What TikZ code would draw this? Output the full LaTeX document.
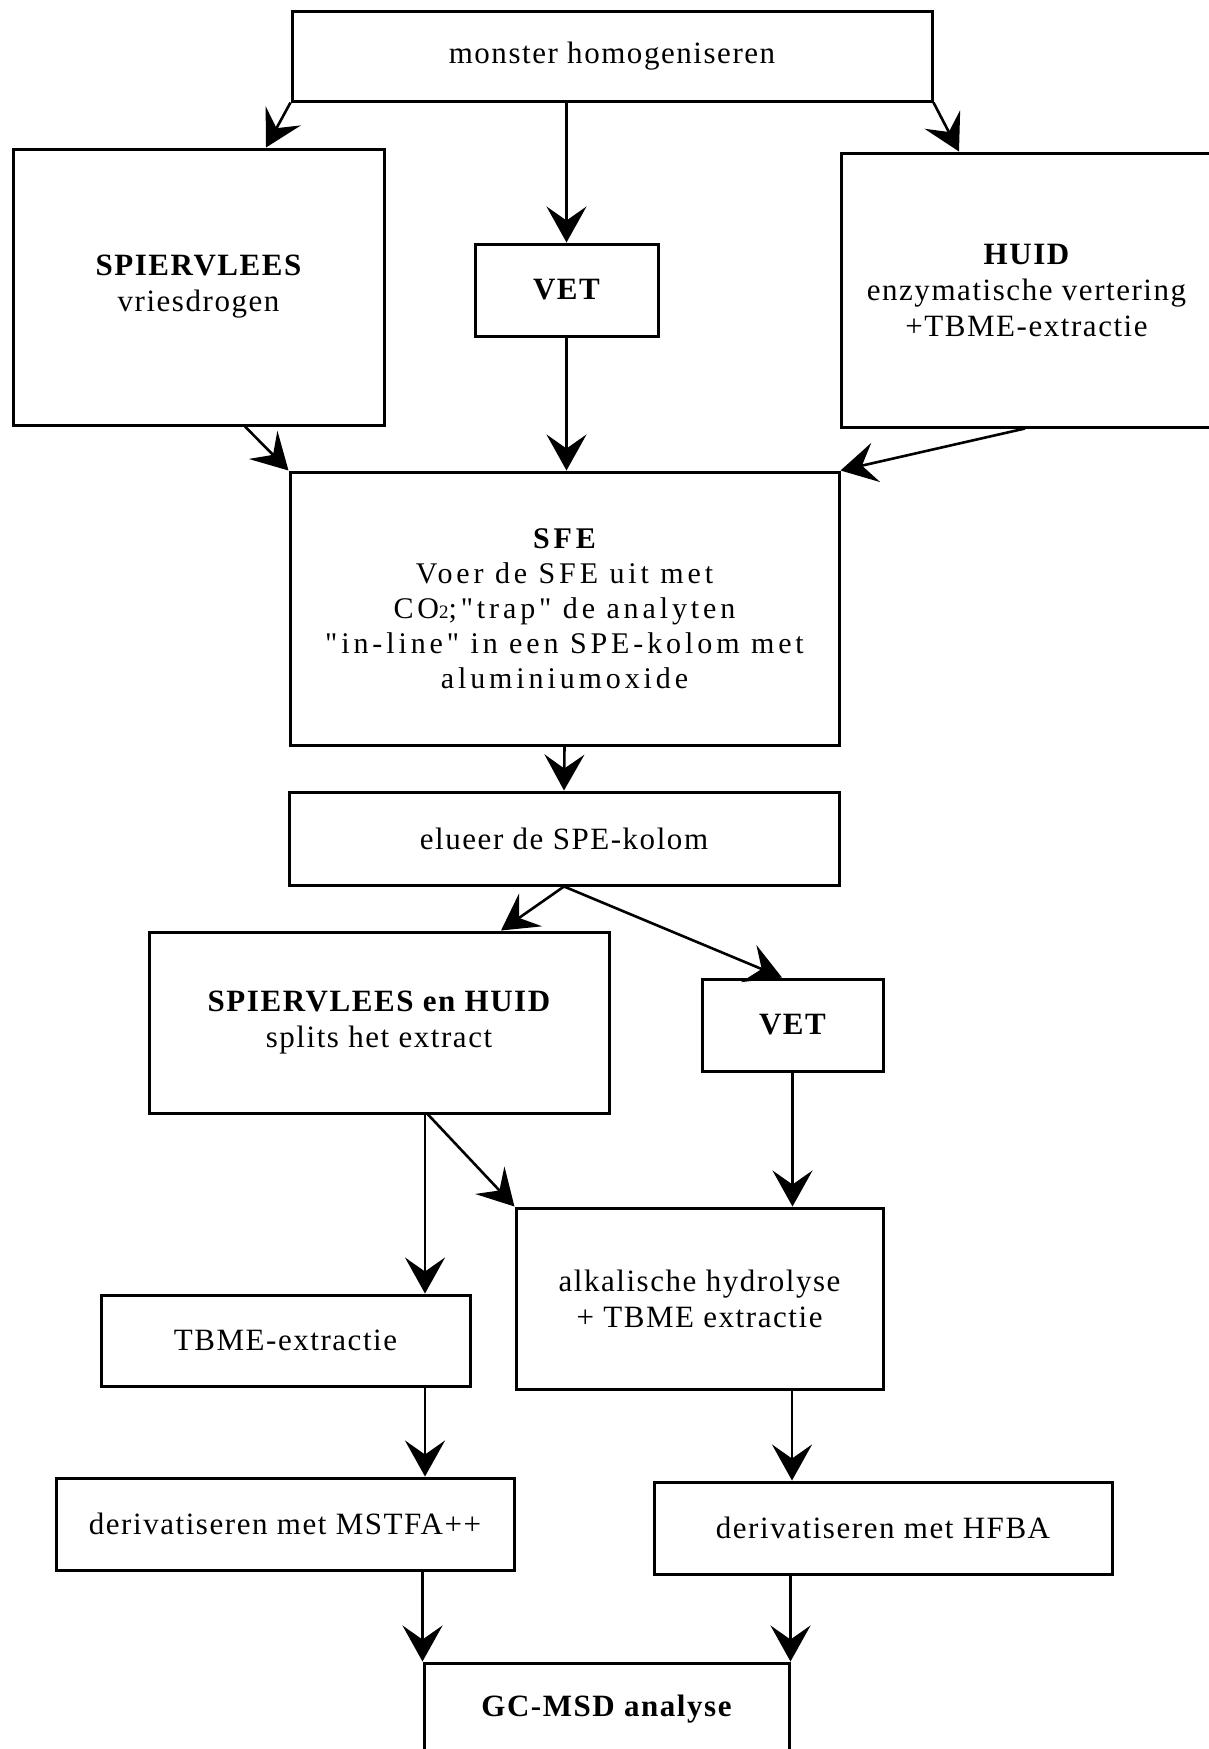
\documentclass[tikz,border=0pt]{standalone}
\usepackage{fontspec}
\setmainfont{Liberation Serif}
\newfontfamily\lsfont[LetterSpace=5]{Liberation Serif}
\newfontfamily\lswide[LetterSpace=13]{Liberation Serif}
\usetikzlibrary{arrows.meta,calc}
\begin{document}
\begin{tikzpicture}[x=1pt,y=-1pt,
  box/.style={draw,line width=3pt,inner sep=0pt,align=center,font=\lsfont\fontsize{31}{36}\selectfont},
  arr/.style={line width=2.6pt,-{Stealth[length=36pt,width=40pt,inset=14pt]}}]
\useasboundingbox (0,0) rectangle (1208,1749);
% boxes
\node[box,minimum width=640pt,minimum height=90pt] (top) at (612,56) {monster homogeniseren};
\node[box,minimum width=371pt,minimum height=276pt] (spv) at (198.5,287) {{\bfseries SPIERVLEES}\\vriesdrogen};
\node[box,minimum width=183pt,minimum height=92pt] (vet) at (566.5,290) {\bfseries VET};
\node[box,minimum width=371pt,minimum height=274pt] (huid) at (1026.5,290) {{\bfseries HUID}\\enzymatische vertering\\+TBME-extractie};
\node[box,minimum width=549pt,minimum height=273pt,font=\lswide\fontsize{30}{35}\selectfont] (sfe) at (564.5,608.5)
  {{\bfseries SFE}\\Voer de SFE uit met\\CO{\fontsize{19}{19}\selectfont 2};"trap" de analyten\\"in-line" in een SPE-kolom met\\aluminiumoxide};
\node[box,minimum width=550pt,minimum height=93pt] (elu) at (564,838.5) {elueer de SPE-kolom};
\node[box,minimum width=460pt,minimum height=181pt] (svh) at (379,1022.5) {{\bfseries SPIERVLEES en HUID}\\splits het extract};
\node[box,minimum width=181pt,minimum height=92pt] (vet2) at (792.5,1025) {\bfseries VET};
\node[box,minimum width=367pt,minimum height=181pt] (alk) at (699.5,1298.5) {alkalische hydrolyse\\+ TBME extractie};
\node[box,minimum width=369pt,minimum height=91pt] (tbme) at (285.5,1340.5) {TBME-extractie};
\node[box,minimum width=458pt,minimum height=92pt] (mst) at (285,1524) {derivatiseren met MSTFA++};
\node[box,minimum width=458pt,minimum height=92pt] (hfba) at (883,1528) {derivatiseren met HFBA};
\node[box,minimum width=365pt,minimum height=92pt] (gc) at (606.5,1709) {\bfseries GC-MSD analyse};
% connectors
\draw[arr] (top.south west) -- ([xshift=67.5pt]spv.north);
\draw[arr] ([xshift=-45.5pt]top.south) -- (vet.north);
\draw[arr] (top.south east) -- ([xshift=-67.5pt]huid.north);
\draw[arr] ([xshift=46.5pt]spv.south) -- (sfe.north west);
\draw[arr] (vet.south) -- (vet.south |- sfe.north);
\draw[arr] ([xshift=-1.5pt]huid.south) -- (sfe.north east);
\draw[arr] (sfe.south) -- (elu.north);
\draw[arr] (elu.south) -- ([xshift=122pt]svh.north);
\draw[arr] (elu.south) -- ([xshift=-10.5pt]vet2.north);
\draw[arr] ([xshift=46pt]svh.south) -- ([xshift=46pt]svh.south |- tbme.north);
\draw[arr] ([xshift=49pt]svh.south) -- (alk.north west);
\draw[arr] (vet2.south) -- (vet2.south |- alk.north);
\draw[arr] ([xshift=139.5pt]tbme.south) -- ([xshift=139.5pt]tbme.south |- mst.north);
\draw[arr] ([xshift=92.5pt]alk.south) -- ([xshift=92.5pt]alk.south |- hfba.north);
\draw[arr] (gc.north west |- mst.south) -- (gc.north west);
\draw[arr] (gc.north east |- hfba.south) -- (gc.north east);
\end{tikzpicture}
\end{document}
